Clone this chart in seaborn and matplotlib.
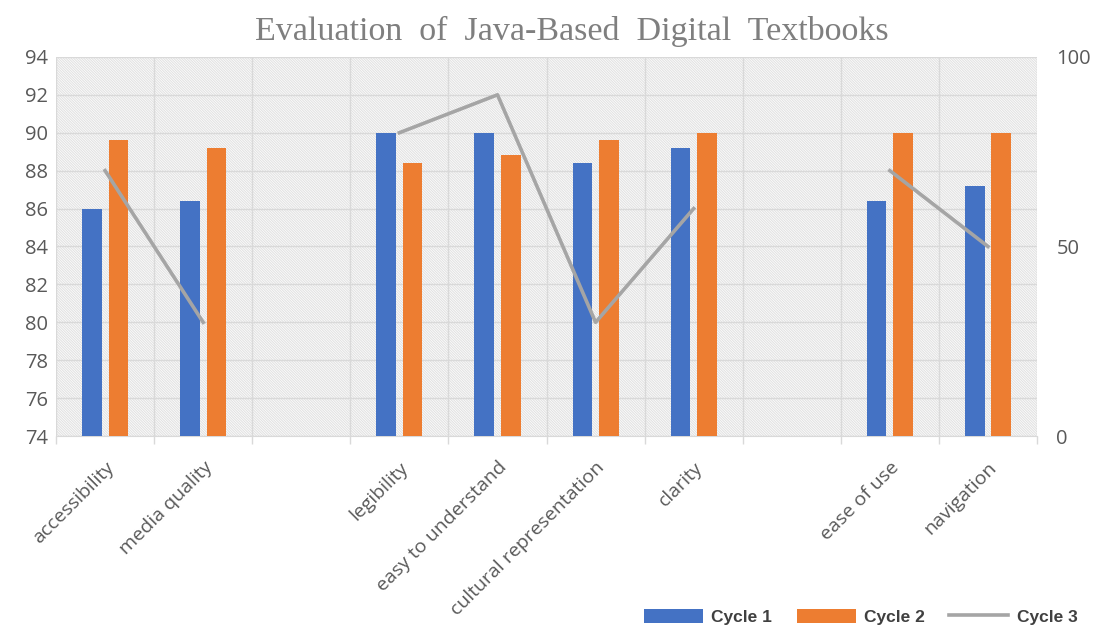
import matplotlib
matplotlib.use("Agg")
import matplotlib.pyplot as plt
from matplotlib.patches import Rectangle, Patch
from matplotlib.lines import Line2D
import seaborn as sns
import pandas as pd
import numpy as np

# ---- data ----
slots = ["accessibility", "media quality", "gap1", "legibility", "easy to understand",
         "cultural representation", "clarity", "gap2", "ease of use", "navigation"]
categories = ["accessibility", "media quality", "legibility", "easy to understand",
              "cultural representation", "clarity", "ease of use", "navigation"]
cycle1 = [86.0, 86.4, 90.0, 90.0, 88.4, 89.2, 86.4, 87.2]
cycle2 = [89.6, 89.2, 88.4, 88.8, 89.6, 90.0, 90.0, 90.0]
cycle3 = [70, 30, 80, 90, 30, 60, 70, 50]
segment = [1, 1, 2, 2, 2, 2, 3, 3]

BLUE = "#4472C4"
ORANGE = "#ED7D31"
GRAY = "#A5A5A5"
GRID = "#D9D9D9"
TXT = "#595959"

plt.rcParams["hatch.linewidth"] = 0.8
plt.rcParams["hatch.color"] = "#E2E2E2"

bars = pd.DataFrame({
    "category": categories * 2,
    "value": cycle1 + cycle2,
    "series": ["Cycle 1"] * len(categories) + ["Cycle 2"] * len(categories),
})
line = pd.DataFrame({
    "pos": [slots.index(c) for c in categories],
    "value": cycle3,
    "segment": segment,
})

fig = plt.figure(figsize=(10.99, 6.32), dpi=100)
ax = fig.add_axes([0.051, 0.310, 0.8926, 0.600])

# hatched background
ax.add_patch(Rectangle((0, 0), 1, 1, transform=ax.transAxes, facecolor="white",
                       edgecolor="#E2E2E2", hatch="\\" * 13, linewidth=0, zorder=0))

sns.barplot(data=bars, x="category", y="value", hue="series", order=slots,
            hue_order=["Cycle 1", "Cycle 2"], palette=[BLUE, ORANGE],
            width=0.54, gap=0.26, legend=False, ax=ax, zorder=3,
            saturation=1, errorbar=None)

ax.set_xlim(-0.5, len(slots) - 0.5)
ax.set_ylim(74, 94)
ax.set_yticks(np.arange(74, 95, 2))
ax.set_xticks(range(len(slots)))
ax.set_xticklabels([s if not s.startswith("gap") else "" for s in slots],
                   rotation=45, ha="right", rotation_mode="anchor",
                   fontsize=14, color=TXT, family="Open Sans")
ax.set_xticks(np.arange(-0.5, len(slots), 1), minor=True)
ax.tick_params(axis="x", which="major", length=0, pad=16)
ax.tick_params(axis="x", which="minor", length=6, color=GRID, width=1)
ax.tick_params(axis="y", length=0, labelsize=14.5, labelcolor=TXT, pad=6)
for lab in ax.get_yticklabels():
    lab.set_family("Open Sans")
ax.grid(axis="y", which="major", color=GRID, linewidth=1, zorder=1)
ax.grid(axis="x", which="minor", color=GRID, linewidth=1, zorder=1)
ax.set_axisbelow(True)
ax.set_xlabel("")
ax.set_ylabel("")
for s in ax.spines.values():
    s.set_visible(False)
ax.spines["bottom"].set_visible(True)
ax.spines["bottom"].set_color(GRID)

ax2 = ax.twinx()
sns.lineplot(data=line, x="pos", y="value", units="segment", estimator=None,
             color=GRAY, linewidth=2.6, ax=ax2, zorder=5)
ax2.set_ylim(0, 100)
ax2.set_yticks([0, 50, 100])
ax2.tick_params(axis="y", length=0, labelsize=14.5, labelcolor=TXT, pad=14)
for lab in ax2.get_yticklabels():
    lab.set_family("Open Sans")
ax2.set_xlim(-0.5, len(slots) - 0.5)
ax2.set_ylabel("")
ax2.set_xlabel("")
for s in ax2.spines.values():
    s.set_visible(False)

fig.text(0.52, 0.950, "Evaluation  of  Java-Based  Digital  Textbooks",
         ha="center", va="center", fontsize=24.5, color="#7F7F7F",
         family="Liberation Serif")

handles = [Patch(facecolor=BLUE, edgecolor="none"),
           Patch(facecolor=ORANGE, edgecolor="none"),
           Line2D([0], [0], color=GRAY, linewidth=2.6)]
fig.legend(handles, ["Cycle 1", "Cycle 2", "Cycle 3"], ncol=3, loc="center right",
           bbox_to_anchor=(0.995, 0.024), frameon=False,
           prop={"family": "Liberation Sans", "weight": "bold", "size": 12.5},
           labelcolor="#404040", handlelength=3.4, handleheight=0.9,
           columnspacing=1.4, handletextpad=0.5)

fig.savefig("out.png", dpi=100)
